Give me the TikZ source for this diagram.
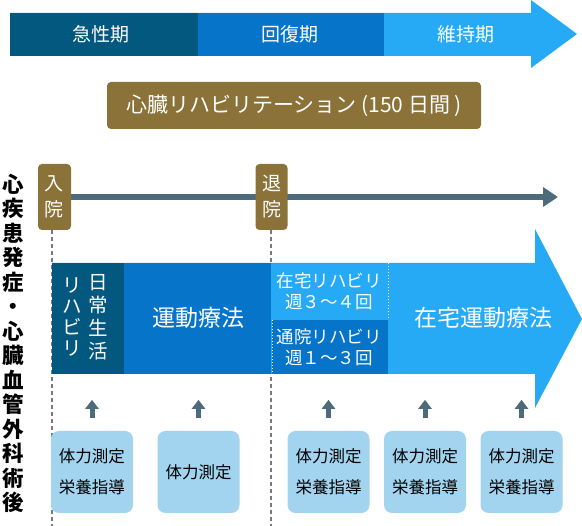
\documentclass[tikz,border=0pt]{standalone}
\usepackage{fontspec}
\setmainfont{Noto Sans CJK JP}
\usetikzlibrary{arrows.meta}
\pgfdeclarelayer{background}
\pgfsetlayers{background,main}
\definecolor{cdark}{HTML}{03587F}
\definecolor{cmid}{HTML}{0674C9}
\definecolor{clight}{HTML}{26AAF6}
\definecolor{cgold}{HTML}{8A7238}
\definecolor{cslate}{HTML}{4E6B7B}
\definecolor{cbox}{HTML}{A3D4EF}
\definecolor{cdash}{HTML}{7A7A7A}
\begin{document}
\begin{tikzpicture}[x=1pt,y=-1pt,
  phase/.style={text=white, font=\fontsize{19}{19}\selectfont, inner sep=0},
  goldbox/.style={fill=cgold, rounded corners=4pt, text=white, inner sep=0},
  infobox/.style={fill=cbox, rounded corners=8pt, minimum width=82pt, minimum height=82pt, align=center, font=\fontsize{16.5}{31}\selectfont, inner sep=0, text=black},
  upar/.style={draw=cslate, line width=5pt, -{Triangle[length=9pt,width=13pt]}},
  vdash/.style={draw=cdash, line width=1.5pt, dash pattern=on 4pt off 3pt},
  wdot/.style={draw=white, line width=1pt, dash pattern=on 1.5pt off 1.5pt},
  wtext/.style={text=white, inner sep=0, align=center}
]
\useasboundingbox (0,0) rectangle (582,526);

% top phase arrow
\fill[clight] (10,13) -- (531,13) -- (531,0) -- (577,34) -- (531,68) -- (531,56) -- (10,56) -- cycle;
\fill[cdark] (10,13) rectangle (198,56);
\fill[cmid] (198,13) rectangle (384,56);
\node[phase] (p1) at (101,34.5) {急性期};
\node[phase] (p2) at (290,34.5) {回復期};
\node[phase] (p3) at (466,34.5) {維持期};

% cardiac rehab box
\node[goldbox, minimum width=374pt, minimum height=47pt, font=\fontsize{21}{21}\selectfont] (rehab) at (294,105.5) {心臓リハビリテーション (150 日間 )};

% left vertical text
\node[inner sep=0, align=center, font=\fontsize{21.5}{24.5}\selectfont\bfseries] (cause) at (13,343.5)
  {心\\疾\\患\\発\\症\\・\\心\\臓\\血\\管\\外\\科\\術\\後};

% admission / discharge
\node[goldbox, minimum width=33pt, minimum height=66pt, align=center, font=\fontsize{19}{26}\selectfont] (nyuin) at (54.5,197) {入\\院};
\node[goldbox, minimum width=32pt, minimum height=66pt, align=center, font=\fontsize{19}{26}\selectfont] (taiin) at (271.5,197) {退\\院};
\coordinate (tlend) at (558,197);
\begin{pgfonlayer}{background}
\draw[draw=cslate, line width=5.5pt, -{Triangle[length=15pt,width=19pt]}] (nyuin.east) -- (tlend);
\end{pgfonlayer}

% dashed verticals
\coordinate (d1) at (52,526);
\coordinate (d2) at (271,526);
\draw[vdash] ([xshift=-2.5pt]nyuin.south) -- (d1);
\draw[vdash] ([xshift=-0.5pt]taiin.south) -- (d2);

% main arrow
\fill[clight] (52,263) -- (535,263) -- (535,229) -- (582,319) -- (535,408) -- (535,374) -- (52,374) -- cycle;
\fill[cdark] (52,263) rectangle (124,374);
\fill[cmid] (124,263) rectangle (271,374);
\fill[cmid] (272,320) rectangle (388,374);
\draw[wdot] (272.5,320) -- (272.5,374);
\draw[wdot] (388,263) -- (388,320);

\node[wtext, font=\fontsize{19.5}{23}\selectfont] (nichijo) at (98,317.5) {日\\常\\生\\活};
\node[wtext, font=\fontsize{19.5}{21}\selectfont] (rihabiri) at (72,317.5) {リ\\ハ\\ビ\\リ};
\node[wtext, font=\fontsize{23}{23}\selectfont] (undo) at (198,318) {運動療法};
\node[wtext, font=\fontsize{17.5}{21}\selectfont] (zaitaku) at (329,291.5) {在宅リハビリ\\週３～４回};
\node[wtext, font=\fontsize{17.5}{21}\selectfont] (tsuin) at (329,347.5) {通院リハビリ\\週１～３回};
\node[wtext, font=\fontsize{23}{23}\selectfont] (zundo) at (483.5,318) {在宅運動療法};

% info boxes
\node[infobox] (b1) at (92,472) {体力測定\\栄養指導};
\node[infobox] (b2) at (198.5,472) {体力測定};
\node[infobox] (b3) at (328.5,472) {体力測定\\栄養指導};
\node[infobox] (b4) at (425,472) {体力測定\\栄養指導};
\node[infobox] (b5) at (521.5,472) {体力測定\\栄養指導};

\foreach \b in {b1,b2,b3,b4,b5}{
  \draw[upar] ([yshift=13pt]\b.north) -- ([yshift=31pt]\b.north);
}
\end{tikzpicture}
\end{document}
